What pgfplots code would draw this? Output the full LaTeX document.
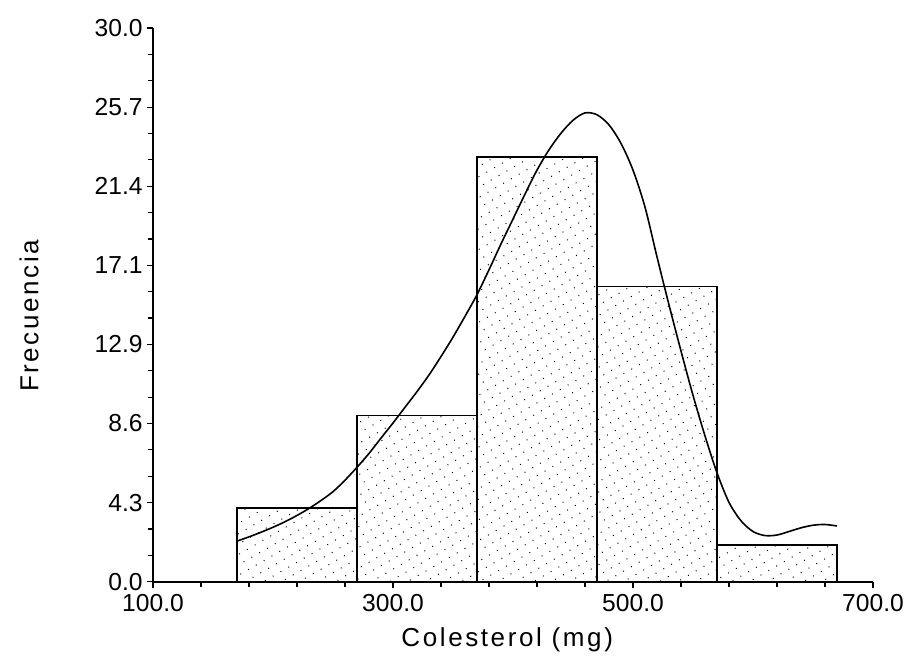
\documentclass[border=0pt]{standalone}
\usepackage{pgfplots}
\pgfplotsset{compat=1.18}
\usepackage{fontspec}
\setmainfont{Liberation Sans}
\newfontfamily\spaced[LetterSpace=10]{Liberation Sans}
\usetikzlibrary{patterns.meta}
\begin{document}
\begin{tikzpicture}
\useasboundingbox (-76.5pt,-39.65pt) rectangle (378pt,290.85pt);
\begin{axis}[
  at={(0,0)}, anchor=south west,
  scale only axis,
  width=360pt, height=276.85pt,
  xmin=100, xmax=700, ymin=0, ymax=30,
  axis x line=bottom, axis y line=left,
  axis line style={-, line width=0.8pt, black},
  xtick={100,300,500,700},
  xticklabels={100.0,300.0,500.0,700.0},
  ytick={0,4.285714,8.571429,12.857143,17.142857,21.428571,25.714286,30},
  yticklabels={0.0,4.3,8.6,12.9,17.1,21.4,25.7,30.0},
  minor x tick num=4,
  minor y tick num=2,
  tick align=outside,
  major tick length=3pt,
  minor tick length=2.5pt,
  tick style={black, line width=0.6pt},
  /pgf/number format/assume math mode=true,
  ticklabel style={font=\fontsize{12.3}{14}\selectfont},
  yticklabel style={inner sep=2pt},
  xlabel={Colesterol (mg)},
  ylabel={Frecuencia},
  every axis x label/.style={at={(axis description cs:0.492,-0.105)}, anchor=center, font=\spaced\fontsize{13}{15}\selectfont},
  every axis y label/.style={at={(axis description cs:-0.172,0.48)}, anchor=center, rotate=90, font=\spaced\fontsize{13}{15}\selectfont},
  clip=false,
]
\addplot[ybar interval, draw=black, line width=0.8pt,
  pattern={Dots[distance=4.5pt, radius=0.35pt, angle=30]}, pattern color=black]
  coordinates {(170,4) (270,9) (370,23) (470,16) (570,2) (670,2)};
\addplot[smooth, black, line width=0.8pt] coordinates {
(170,2.20) (180,2.43) (190,2.68) (200,2.95) (210,3.25) (220,3.59)
(230,3.97) (240,4.40) (250,4.88) (260,5.50) (270,6.20) (280,6.95)
(290,7.78) (300,8.60) (310,9.45) (320,10.30) (330,11.20) (340,12.20)
(350,13.25) (360,14.38) (370,15.55) (380,16.90) (390,18.30) (400,19.65)
(410,21.00) (420,22.30) (430,23.40) (440,24.30) (450,25.00) (460,25.40)
(470,25.30) (480,24.75) (490,23.75) (500,22.30) (510,20.30) (520,17.60)
(530,15.00) (540,12.50) (550,10.10) (560,7.90) (570,5.90) (580,4.30)
(590,3.30) (600,2.72) (610,2.50) (620,2.53) (630,2.72) (640,2.92)
(650,3.06) (660,3.10) (670,3.02)};
\end{axis}
\end{tikzpicture}
\end{document}
